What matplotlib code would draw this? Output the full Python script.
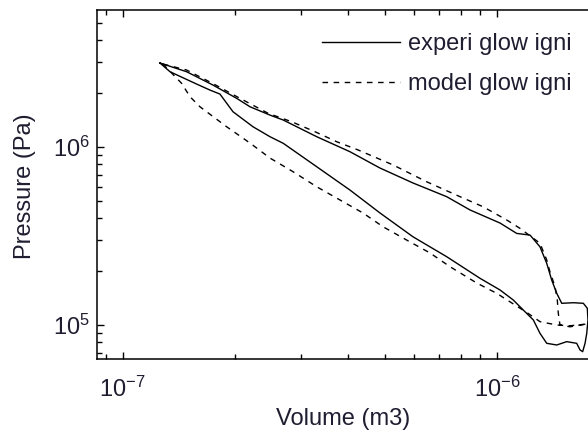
import matplotlib
matplotlib.use("Agg")
import matplotlib.pyplot as plt
from matplotlib.lines import Line2D

plt.rcParams['font.family'] = ['Liberation Sans', 'DejaVu Sans']
plt.rcParams['mathtext.fontset'] = 'custom'
plt.rcParams['mathtext.rm'] = 'Liberation Sans'
plt.rcParams['mathtext.it'] = 'Liberation Sans'
plt.rcParams['mathtext.bf'] = 'Liberation Sans'

TEXT = '#1f1d30'

# Measured (glow-plug ignition) P-V loop, volume in m3, pressure in Pa
experi_volume = [
    1.258e-7, 1.482e-7, 1.742e-7, 2.016e-7, 2.187e-7, 2.473e-7, 2.684e-7,
    3.296e-7, 4.044e-7, 4.863e-7, 5.957e-7, 7.328e-7, 8.456e-7, 1.017e-6,
    1.127e-6, 1.223e-6, 1.300e-6, 1.355e-6, 1.397e-6, 1.441e-6, 1.486e-6,
    1.596e-6, 1.697e-6, 1.739e-6, 1.746e-6, 1.733e-6, 1.715e-6, 1.690e-6,
    1.663e-6, 1.629e-6, 1.532e-6, 1.441e-6, 1.355e-6, 1.300e-6, 1.248e-6,
    1.173e-6, 1.103e-6, 1.017e-6, 8.99e-7, 7.328e-7, 5.957e-7, 4.863e-7,
    4.044e-7, 3.296e-7, 2.684e-7, 2.473e-7, 2.228e-7, 1.970e-7, 1.818e-7,
    1.710e-7, 1.576e-7, 1.338e-7, 1.258e-7,
]
experi_pressure = [
    2.965e6, 2.649e6, 2.230e6, 1.877e6, 1.684e6, 1.512e6, 1.418e6,
    1.143e6, 9.41e5, 7.62e5, 6.28e5, 5.26e5, 4.43e5, 3.74e5,
    3.27e5, 3.20e5, 2.75e5, 2.22e5, 1.79e5, 1.507e5, 1.324e5,
    1.334e5, 1.324e5, 1.241e5, 1.067e5, 8.98e4, 7.89e4, 7.08e4,
    7.24e4, 7.89e4, 8.06e4, 7.72e4, 7.89e4, 8.98e4, 1.067e5,
    1.214e5, 1.382e5, 1.573e5, 1.830e5, 2.419e5, 3.13e5, 4.26e5,
    5.73e5, 7.75e5, 1.049e6, 1.143e6, 1.300e6, 1.579e6, 1.985e6,
    2.090e6, 2.258e6, 2.649e6, 2.965e6,
]

# Simulated (glow-plug ignition) P-V loop
model_volume = [
    1.281e-7, 1.482e-7, 1.742e-7, 2.016e-7, 2.447e-7, 2.826e-7, 3.262e-7,
    3.727e-7, 4.255e-7, 5.278e-7, 6.479e-7, 7.953e-7, 9.16e-7, 1.060e-6,
    1.150e-6, 1.300e-6, 1.355e-6, 1.382e-6, 1.426e-6, 1.446e-6, 1.455e-6,
    1.470e-6, 1.564e-6, 1.663e-6, 1.739e-6, 1.564e-6, 1.441e-6, 1.300e-6,
    1.208e-6, 9.96e-7, 8.81e-7, 7.478e-7, 6.612e-7, 5.731e-7, 4.954e-7,
    4.38e-7, 3.803e-7, 3.296e-7, 2.849e-7, 2.473e-7, 2.187e-7, 1.895e-7,
    1.608e-7, 1.513e-7, 1.437e-7, 1.281e-7,
]
model_pressure = [
    2.926e6, 2.708e6, 2.273e6, 1.921e6, 1.546e6, 1.387e6, 1.219e6,
    1.071e6, 9.62e5, 7.92e5, 6.38e5, 5.26e5, 4.62e5, 3.89e5,
    3.49e5, 2.88e5, 2.32e5, 1.992e5, 1.641e5, 1.382e5, 1.163e5,
    1.0e5, 9.77e4, 1.0e5, 1.013e5, 9.9e4, 1.0e5, 1.044e5,
    1.163e5, 1.507e5, 1.722e5, 2.126e5, 2.54e5, 3.00e5, 3.566e5,
    4.26e5, 5.04e5, 5.98e5, 7.27e5, 8.67e5, 1.053e6, 1.300e6,
    1.684e6, 1.917e6, 2.279e6, 2.926e6,
]

series_labels = ['experi glow igni', 'model glow igni']

W, H = 588, 436
fig = plt.figure(figsize=(W / 100, H / 100), dpi=100)
left, right, top, bottom = 97, 600, 10, 359
ax = fig.add_axes([left / W, 1 - bottom / H, (right - left) / W, (bottom - top) / H])

ax.plot(experi_volume, experi_pressure, color='black', lw=1.0, ls='-')
ax.plot(model_volume, model_pressure, color='black', lw=1.0, ls=(0, (4, 4)))

ax.set_xscale('log')
ax.set_yscale('log')
ax.set_xlim(8.54e-8, 1.88e-6)
ax.set_ylim(6.44e4, 5.89e6)

for s in ax.spines.values():
    s.set_linewidth(1.1)
ax.spines['right'].set_visible(False)

ax.tick_params(which='both', direction='in', top=True, right=False,
               labelsize=17, labelcolor=TEXT, width=1.0)
ax.tick_params(which='major', length=5)
ax.tick_params(which='minor', length=3.5)
ax.tick_params(axis='x', pad=13)
ax.tick_params(axis='y', pad=5)

ax.set_xlabel('Volume (m3)', fontsize=17, color=TEXT)
ax.set_ylabel('Pressure (Pa)', fontsize=17, color=TEXT)
ax.xaxis.label.set_va('center')
ax.yaxis.label.set_va('center')
ax.xaxis.set_label_coords((343 - left) / (right - left), (bottom - 419) / (bottom - top))
ax.yaxis.set_label_coords((25 - left) / (right - left), (bottom - 186) / (bottom - top))

handles = [Line2D([], [], color='black', lw=1.0, ls='-'),
           Line2D([], [], color='black', lw=1.0, ls=(0, (4, 4)))]
leg = fig.legend(handles, series_labels, loc='upper left',
                 bbox_to_anchor=(322 / W, 1 - 33 / H), bbox_transform=fig.transFigure,
                 frameon=False, fontsize=17, handlelength=3.3, handletextpad=0.35,
                 labelspacing=0.78, borderpad=0.0, borderaxespad=0.0)
for t in leg.get_texts():
    t.set_color(TEXT)

fig.savefig('out.png', dpi=100)
